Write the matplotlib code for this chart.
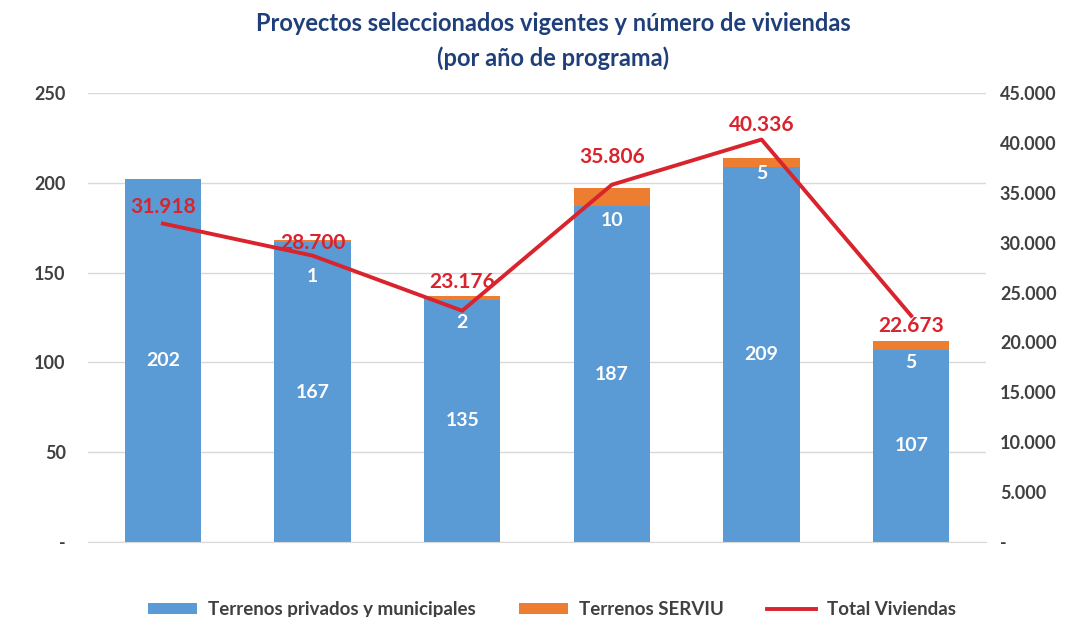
import matplotlib
matplotlib.use("Agg")
import matplotlib.pyplot as plt
import numpy as np

plt.rcParams['font.family'] = ['Lato', 'DejaVu Sans']

# datos
anios = ["1", "2", "3", "4", "5", "6"]
privados = [202, 167, 135, 187, 209, 107]
serviu = [0, 1, 2, 10, 5, 5]
viviendas = [31918, 28700, 23176, 35806, 40336, 22673]

# posicion de las etiquetas (ajuste manual como en el original)
serviu_lbl_y = [None, 148, 122, 179, 205, 100]
viv_lbl_dy = [17, 13, 29, 28, 15, -10]

azul = "#5B9BD5"
naranja = "#ED7D31"
rojo = "#D9232D"
gris = "#D9D9D9"
texto = "#404040"


def fmt_miles(v):
    return f"{v:,.0f}".replace(",", ".")


fig = plt.figure(figsize=(10.76, 6.17), dpi=100)
ax = fig.add_axes([0.0818, 0.1216, 0.8346, 0.7277])
ax2 = ax.twinx()

x = np.arange(len(anios))
b1 = ax.bar(x, privados, width=0.51, color=azul, zorder=2)
b2 = ax.bar(x, serviu, width=0.51, bottom=privados, color=naranja, zorder=2)

ax.set_xlim(-0.5, len(anios) - 0.5)
ax.set_ylim(0, 250)
ax.set_yticks(range(0, 251, 50))
ax.set_yticklabels(["-"] + [str(v) for v in range(50, 251, 50)])
ax.grid(axis="y", color=gris, linewidth=1, zorder=0)
ax.set_xticks([])
for s in ["top", "right", "left"]:
    ax.spines[s].set_visible(False)
ax.spines["bottom"].set_color(gris)
ax.tick_params(axis="y", length=0, pad=16, labelsize=13, labelcolor=texto)

(l1,) = ax2.plot(x, viviendas, color=rojo, linewidth=2.8, zorder=3)
ax2.set_ylim(0, 45000)
ax2.set_yticks(range(0, 45001, 5000))
ax2.set_yticklabels(["-"] + [fmt_miles(v) for v in range(5000, 45001, 5000)])
for s in ax2.spines.values():
    s.set_visible(False)
ax2.tick_params(axis="y", length=0, pad=10, labelsize=13, labelcolor=texto)

for lbl in ax.get_yticklabels() + ax2.get_yticklabels():
    lbl.set_fontweight("bold")

# etiquetas de barras
for i, v in enumerate(privados):
    ax.text(x[i], v / 2, str(v), ha="center", va="center", color="white",
            fontsize=14, fontweight="bold", zorder=4)
for i, v in enumerate(serviu):
    if v and serviu_lbl_y[i] is not None:
        ax.text(x[i], serviu_lbl_y[i], str(v), ha="center", va="center",
                color="white", fontsize=14, fontweight="bold", zorder=4)

# etiquetas de la linea
for i, v in enumerate(viviendas):
    ax2.annotate(fmt_miles(v), (x[i], v), xytext=(0, viv_lbl_dy[i]),
                 textcoords="offset pixels", ha="center", va="center",
                 color=rojo, fontsize=15, fontweight="bold", zorder=5)

fig.text(0.514, 0.962, "Proyectos seleccionados vigentes y número de viviendas",
         ha="center", va="center", fontsize=17, fontweight="bold", color="#1F3F7A")
fig.text(0.514, 0.905, "(por año de programa)",
         ha="center", va="center", fontsize=17, fontweight="bold", color="#1F3F7A")

fig.legend([b1, b2, l1], ["Terrenos privados y municipales", "Terrenos SERVIU", "Total Viviendas"],
           loc="center", bbox_to_anchor=(0.513, 0.012), ncol=3, frameon=False,
           prop={"size": 13.5, "weight": "bold"}, handlelength=2.6, handleheight=0.6,
           handletextpad=0.6, columnspacing=2.3, labelcolor=texto)

fig.savefig("out.png", dpi=100)
